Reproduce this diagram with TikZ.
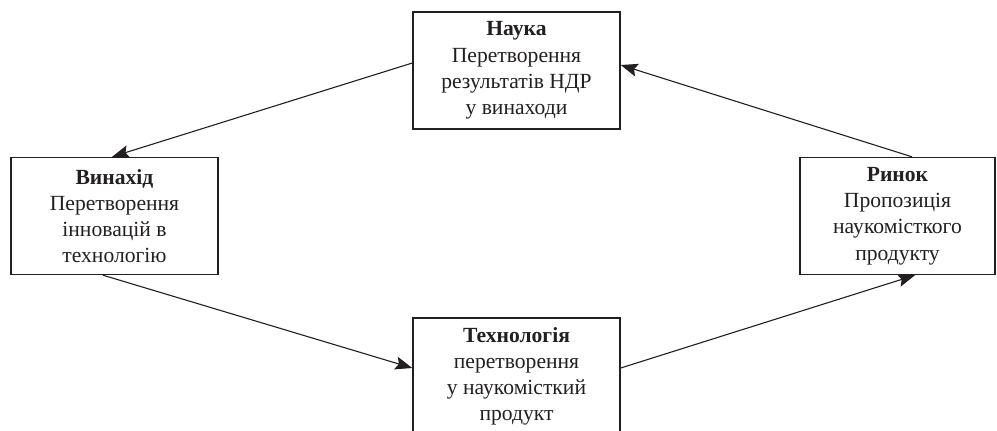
\documentclass[tikz,border=0pt]{standalone}
\usepackage{fontspec}
\setmainfont{Liberation Serif}
\usepackage{xcolor}
\usepackage{tikz}
\usetikzlibrary{arrows.meta}
\definecolor{inkdark}{HTML}{231F20}
\tikzset{
  block/.style={draw=inkdark,line width=0.7pt,minimum width=103.5pt,
    minimum height=58.5pt,align=center,inner sep=2pt,text=inkdark,
    font=\fontsize{10.8}{13.1}\selectfont},
  link/.style={draw=inkdark,line width=0.55pt,
    -{Stealth[length=8.5pt,width=6.5pt,inset=1.5pt]}}
}

\begin{document}
\begin{tikzpicture}[x=0.5pt,y=-0.5pt]
  \useasboundingbox (0,0) rectangle (997,430);
  \node[block] (nauka) at (516.5,70.5)
    {\textbf{Наука}\\Перетворення\\результатів НДР\\у винаходи};
  \node[block] (vynakhid) at (114.5,216)
    {\textbf{Винахід}\\Перетворення\\інновацій в\\технологію};
  \node[block,minimum width=97.5pt] (rynok) at (897.5,216)
    {\textbf{Ринок}\\Пропозиція\\наукомісткого\\продукту};
  \node[block] (tekhn) at (516.5,376.5)
    {\textbf{Технологія}\\перетворення\\у наукомісткий\\продукт};
  \draw[link] ([yshift=3.75pt]nauka.west) -- ([xshift=-1.2pt]vynakhid.north);
  \draw[link] ([xshift=-5.75pt]vynakhid.south) -- ([yshift=4.25pt]tekhn.west);
  \draw[link] ([yshift=4.25pt]tekhn.east) -- ([xshift=8.75pt]rynok.south);
  \draw[link] ([xshift=7.25pt]rynok.north) -- ([yshift=2.75pt]nauka.east);
\end{tikzpicture}
\end{document}
